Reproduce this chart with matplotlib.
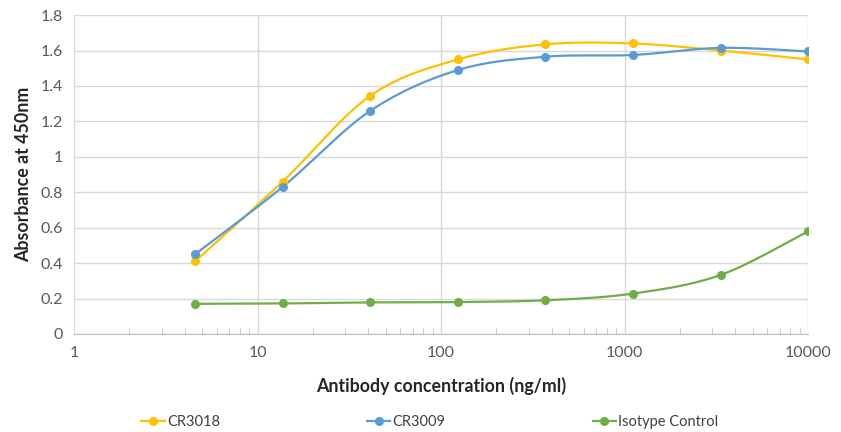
import matplotlib.pyplot as plt
import numpy as np

plt.rcParams['font.family'] = ['Lato', 'DejaVu Sans']

conc = [4.57, 13.7, 41.2, 123.5, 370.4, 1111.1, 3333.3, 10000]
cr3018 = [0.41, 0.86, 1.345, 1.55, 1.635, 1.64, 1.60, 1.55]
cr3009 = [0.45, 0.83, 1.26, 1.49, 1.565, 1.575, 1.615, 1.595]
isotype = [0.17, 0.172, 0.178, 0.18, 0.19, 0.228, 0.333, 0.58]

names = ['CR3018', 'CR3009', 'Isotype Control']
colors = ['#FFC000', '#5B9BD5', '#70AD47']


def smooth(xs, ys, n=30):
    # excel-like smoothed line (catmull-rom bezier) in log x space
    lx = np.log10(xs)
    ys = np.asarray(ys, float)
    px = np.concatenate([[lx[0]], lx, [lx[-1]]])
    py = np.concatenate([[ys[0]], ys, [ys[-1]]])
    outx, outy = [], []
    t = np.linspace(0, 1, n)
    for i in range(1, len(px) - 2):
        p0 = np.array([px[i], py[i]])
        p3 = np.array([px[i + 1], py[i + 1]])
        c1 = p0 + (np.array([px[i + 1], py[i + 1]]) - np.array([px[i - 1], py[i - 1]])) / 6
        c2 = p3 - (np.array([px[i + 2], py[i + 2]]) - np.array([px[i], py[i]])) / 6
        b = ((1 - t)[:, None] ** 3 * p0 + 3 * ((1 - t) ** 2 * t)[:, None] * c1
             + 3 * ((1 - t) * t ** 2)[:, None] * c2 + (t ** 3)[:, None] * p3)
        outx.extend(b[:, 0])
        outy.extend(b[:, 1])
    return 10 ** np.array(outx), np.array(outy)


fig = plt.figure(figsize=(8.41, 4.32), dpi=100)
ax = fig.add_axes([0.088, 0.227, 0.873, 0.738])

for ys, name, c in zip([cr3018, cr3009, isotype], names, colors):
    sx, sy = smooth(conc, ys)
    ax.plot(sx, sy, color=c, lw=1.6, zorder=3)
    ax.plot(conc, ys, 'o', color=c, ms=5.5, zorder=4)
    ax.plot([], [], '-o', color=c, lw=1.6, ms=5.5, label=name)

ax.set_xscale('log')
ax.set_xlim(1, 10000)
ax.set_ylim(0, 1.8)
ax.set_yticks(np.arange(0, 1.81, 0.2))
ax.set_yticklabels(['0', '0.2', '0.4', '0.6', '0.8', '1', '1.2', '1.4', '1.6', '1.8'])
ax.set_xticks([1, 10, 100, 1000, 10000])
ax.set_xticklabels(['1', '10', '100', '1000', '10000'])
ax.grid(True, which='major', color='#d9d9d9', lw=1)
ax.set_axisbelow(True)
for s in ['top', 'right', 'left']:
    ax.spines[s].set_visible(False)
ax.spines['bottom'].set_color('#bfbfbf')
ax.tick_params(axis='y', length=0, labelsize=11.5, labelcolor='#595959', pad=8)
ax.tick_params(axis='x', which='major', length=0, labelsize=11.5, labelcolor='#595959', pad=9)
ax.tick_params(axis='x', which='minor', direction='in', length=4, color='#bfbfbf')

ax.set_ylabel('Absorbance at 450nm', fontsize=12.8, fontweight='bold', color='#262626', labelpad=6)
ax.set_xlabel('Antibody concentration (ng/ml)', fontsize=12.8, fontweight='bold', color='#262626', labelpad=12)

fig.legend(loc='lower left', ncol=3, frameon=False, fontsize=10.5, bbox_to_anchor=(0.161, -0.006),
           columnspacing=10.1, handlelength=1.6, handletextpad=0.15, labelcolor='#404040',
           borderaxespad=0)

fig.savefig('out.png', dpi=100)
